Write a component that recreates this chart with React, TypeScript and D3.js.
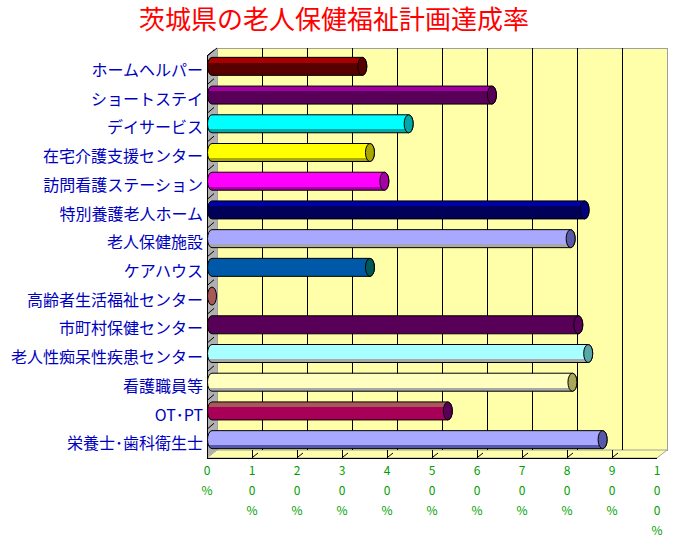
import React from 'react';
import * as d3 from 'd3';

// 茨城県の老人保健福祉計画達成率 (%)
const categories = [
  'ホームヘルパー', 'ショートステイ', 'デイサービス', '在宅介護支援センター',
  '訪問看護ステーション', '特別養護老人ホーム', '老人保健施設', 'ケアハウス',
  '高齢者生活福祉センター', '市町村保健センター', '老人性痴呆性疾患センター',
  '看護職員等', 'OT･PT', '栄養士･歯科衛生士',
];
const values = [33.4, 62.2, 43.7, 35.1, 38.3, 82.8, 79.7, 35.1, 0, 81.4, 83.6, 80.1, 52.4, 86.8];
const tickValues = [0, 10, 20, 30, 40, 50, 60, 70, 80, 90, 100];

// top band / body / bottom band / end cap
const barColors = [
  ['#a80000', '#580000', '#580000', '#580000'],
  ['#a000a0', '#580058', '#580058', '#580058'],
  ['#00ffff', '#00ffff', '#00a8a8', '#00a8a8'],
  ['#ffff00', '#ffff00', '#a8a800', '#a8a800'],
  ['#ff00ff', '#ff00ff', '#a800a8', '#a800a8'],
  ['#0000a8', '#000058', '#000058', '#000080'],
  ['#a8a8ff', '#a8a8ff', '#a8a8a8', '#5858a8'],
  ['#0058a8', '#0058a8', '#0058a8', '#005858'],
  ['#a85858', '#a85858', '#a85858', '#a85858'],
  ['#580058', '#580058', '#580058', '#580058'],
  ['#a8ffff', '#a8ffff', '#a8a8a8', '#58a8a8'],
  ['#ffffc0', '#ffffc0', '#a8a8a8', '#a8a858'],
  ['#a85858', '#a80058', '#a80058', '#580058'],
  ['#a8a8ff', '#a8a8ff', '#5858a8', '#5858a8'],
];

const W = 673, H = 539;
const left = 207, right = 657, top = 56, bottom = 458;
const dx = 10, dy = -8;
const wallFill = '#ffffaa';

export default function App() {
  const x = d3.scaleLinear().domain([0, 100]).range([left, right]);
  const y = d3.scaleBand<string>().domain(categories).range([top, bottom]).padding(0);
  const barH = 18, rx = 4.5;
  const font = '"Noto Sans CJK JP", "Noto Sans", sans-serif';
  const px = (v: number) => Math.round(v) + 0.5;

  return (
    <svg width={W} height={H} style={{position: 'absolute', left: 0, top: 0, background: '#fff'}}
         fontFamily={font}>
      <defs>
        {barColors.map((c, i) => (
          <linearGradient key={i} id={`bar${i}`} x1="0" y1="0" x2="0" y2="1">
            <stop offset="0" stopColor={c[0]}/>
            <stop offset="0.3" stopColor={c[0]}/>
            <stop offset="0.3" stopColor={c[1]}/>
            <stop offset="0.8" stopColor={c[1]}/>
            <stop offset="0.8" stopColor={c[2]}/>
            <stop offset="1" stopColor={c[2]}/>
          </linearGradient>
        ))}
      </defs>

      <text x={334} y={29} textAnchor="middle" fontSize={26} fill="#ff0000">
        茨城県の老人保健福祉計画達成率
      </text>

      {/* back wall */}
      <rect x={px(left + dx)} y={px(top + dy)} width={right - left} height={bottom - top}
            fill={wallFill} stroke="#a0a0a0" shapeRendering="crispEdges"/>
      {/* floor */}
      <polygon points={`${left},${bottom} ${right},${bottom} ${right + dx},${bottom + dy} ${left + dx},${bottom + dy}`}
               fill={wallFill} stroke="#a0a0a0"/>
      {/* left wall */}
      <polygon points={`${left},${top} ${left + dx},${top + dy} ${left + dx},${bottom + dy} ${left},${bottom}`}
               fill="#b0b0b0"/>
      <line x1={left} y1={top} x2={left + dx} y2={top + dy} stroke="#000"/>

      {/* gridlines */}
      {tickValues.slice(1, -1).map(t => (
        <g key={t} stroke="#000" shapeRendering="crispEdges">
          <line x1={px(x(t) + dx)} y1={top + dy} x2={px(x(t) + dx)} y2={bottom + dy}/>
          <line x1={px(x(t))} y1={bottom + dy} x2={px(x(t))} y2={bottom}/>
          <line x1={x(t) + 1} y1={bottom - 1} x2={x(t) + 6} y2={bottom - 5} shapeRendering="auto"/>
        </g>
      ))}
      {categories.map(c => (
        <line key={c} x1={left} y1={y(c)!} x2={left + 7} y2={y(c)! - 6} stroke="#000"/>
      ))}
      <line x1={px(left)} y1={top} x2={px(left)} y2={bottom} stroke="#000" shapeRendering="crispEdges"/>
      <line x1={left} y1={px(bottom)} x2={right} y2={px(bottom)} stroke="#000" shapeRendering="crispEdges"/>

      {/* cylinders */}
      {categories.map((c, i) => {
        const cy = y(c)! + y.bandwidth() / 2 + dy / 2;
        const x0 = x(0) + dx / 2;
        const x1 = x(values[i]) + dx / 2;
        const t = cy - barH / 2, b = cy + barH / 2;
        const body = `M${x0},${t} L${x1},${t} A${rx},${barH / 2} 0 0 1 ${x1},${b} L${x0},${b} A${rx},${barH / 2} 0 0 1 ${x0},${t} Z`;
        return (
          <g key={c}>
            {values[i] > 0 && <path d={body} fill={`url(#bar${i})`} stroke="#000"/>}
            <ellipse cx={x1} cy={cy} rx={rx} ry={barH / 2} fill={barColors[i][3]} stroke="#000"/>
          </g>
        );
      })}

      {/* category labels */}
      {categories.map(c => (
        <text key={c} x={203} y={y(c)! + y.bandwidth() / 2} dy="0.35em" textAnchor="end"
              fontSize={16} fill="#0000c0">{c}</text>
      ))}

      {/* value axis labels, one character per line */}
      {tickValues.map(t => (
        <text key={t} x={x(t)} y={471} textAnchor="middle" fontSize={12} fill="#00a000">
          {`${t}%`.split('').map((ch, k) => (
            <tspan key={k} x={x(t)} y={471 + k * 20} dy="0.35em">{ch}</tspan>
          ))}
        </text>
      ))}
    </svg>
  );
}
